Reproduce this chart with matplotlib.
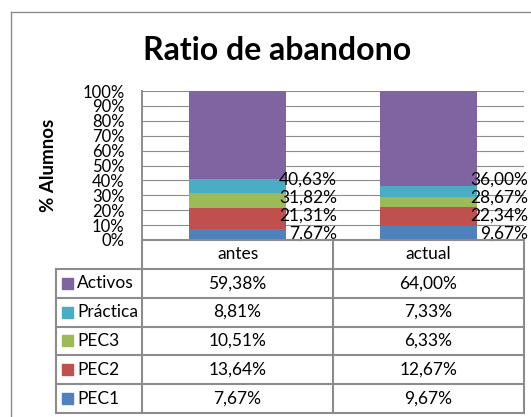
import numpy as np
import matplotlib
matplotlib.use("Agg")
import matplotlib.pyplot as plt
from matplotlib.lines import Line2D
from matplotlib.patches import Rectangle

# ---------------- data ----------------
categories = ["antes", "actual"]
series_names = ["PEC1", "PEC2", "PEC3", "Práctica", "Activos"]   # bottom -> top
pec1 = [7.67, 9.67]
pec2 = [13.64, 12.67]
pec3 = [10.51, 6.33]
practica = [8.81, 7.33]
activos = [59.38, 64.00]
series_values = [pec1, pec2, pec3, practica, activos]
series_colors = ["#4F81BD", "#C0504D", "#9BBB59", "#4BACC6", "#8064A2"]
y_ticks = [0, 10, 20, 30, 40, 50, 60, 70, 80, 90, 100]
y_tick_labels = [f"{t}%" for t in y_ticks]

def pct(v):
    return f"{v:.2f}".replace(".", ",") + "%"

# ---------------- layout ----------------
W, H = 531, 417
FONT = "Lato"
plt.rcParams["font.family"] = [FONT, "DejaVu Sans"]
fig = plt.figure(figsize=(W / 100, H / 100), dpi=100)
fig.patch.set_facecolor("white")

def fx(px):
    return px / W

def fy(py):
    return 1 - py / H

grid_c = "#8C8C8C"
PL, PR, PT, PB = 142, 524, 91, 240
ax = fig.add_axes([fx(PL), fy(PB), (PR - PL) / W, (PB - PT) / H])
ax.set_xlim(0, len(categories))
ax.set_ylim(0, 100)
x = np.arange(len(categories)) + 0.5
bottom = np.zeros(len(categories))
for name, vals, col in zip(series_names, series_values, series_colors):
    ax.bar(x, vals, width=0.51, bottom=bottom, color=col, edgecolor="none", zorder=2)
    bottom = bottom + np.array(vals)

ax.set_yticks(y_ticks)
ax.set_yticklabels(y_tick_labels)
ax.set_xticks([])
ax.tick_params(axis="y", length=0, pad=12.5, labelsize=12)
ax.yaxis.grid(True, color=grid_c, lw=0.8, zorder=0)
ax.set_axisbelow(True)
for s in ["top", "right", "bottom"]:
    ax.spines[s].set_visible(False)
ax.spines["left"].set_color(grid_c)
ax.spines["left"].set_linewidth(1.4)
ax.set_ylabel("% Alumnos", fontsize=13.5, fontweight="bold", labelpad=18)

# cumulative data labels (stacked beside the bars)
for i in range(len(categories)):
    cum = np.cumsum([v[i] for v in series_values[:-1]])
    for j, c in enumerate(cum):
        ax.text(x[i] + 0.52, 4.2 + 12.2 * j, pct(c), ha="right", va="center",
                fontsize=12.5, zorder=5, clip_on=False)

# title
fig.text(fx(277), fy(50), "Ratio de abandono", ha="center", va="center",
         fontsize=23, fontweight="bold")

# ---------------- data table ----------------
rows_top_to_bottom = list(zip(series_names, series_values, series_colors))[::-1]
row_edges = np.linspace(240, 413, len(rows_top_to_bottom) + 2)
col_edges = [56, 142, 333, 524]
lw_t = 1.5

def hline(y, x0, x1):
    fig.add_artist(Line2D([fx(x0), fx(x1)], [fy(y), fy(y)], color=grid_c, lw=lw_t))

def vline(xp, y0, y1):
    fig.add_artist(Line2D([fx(xp), fx(xp)], [fy(y0), fy(y1)], color=grid_c, lw=lw_t))

hline(row_edges[0], col_edges[1], col_edges[3])
for yy in row_edges[1:]:
    hline(yy, col_edges[0], col_edges[3])
vline(col_edges[0], row_edges[1], row_edges[-1])
vline(col_edges[1], PB, row_edges[-1])
vline(col_edges[2], row_edges[0], row_edges[-1])
vline(col_edges[3], row_edges[0], row_edges[-1])

# header
for k, cat in enumerate(categories):
    xc = (col_edges[k + 1] + col_edges[k + 2]) / 2
    fig.text(fx(xc), fy((row_edges[0] + row_edges[1]) / 2), cat,
             ha="center", va="center", fontsize=12.5)

for r, (name, vals, col) in enumerate(rows_top_to_bottom):
    yc = (row_edges[r + 1] + row_edges[r + 2]) / 2
    fig.add_artist(Rectangle((fx(62), fy(yc + 5.5)), 11 / W, 11 / H,
                             transform=fig.transFigure, color=col))
    fig.text(fx(77), fy(yc), name, ha="left", va="center", fontsize=12.5)
    for k, v in enumerate(vals):
        xc = (col_edges[k + 1] + col_edges[k + 2]) / 2
        fig.text(fx(xc), fy(yc), pct(v), ha="center", va="center", fontsize=12.5)

# chart outer frame
fig.add_artist(Line2D([fx(11), fx(11)], [fy(12), fy(H + 5)], color="#8C8C8C", lw=1.0))
fig.add_artist(Line2D([fx(11), fx(W + 5)], [fy(12), fy(12)], color="#8C8C8C", lw=1.0))

fig.savefig("out.png", dpi=100, facecolor="white")
